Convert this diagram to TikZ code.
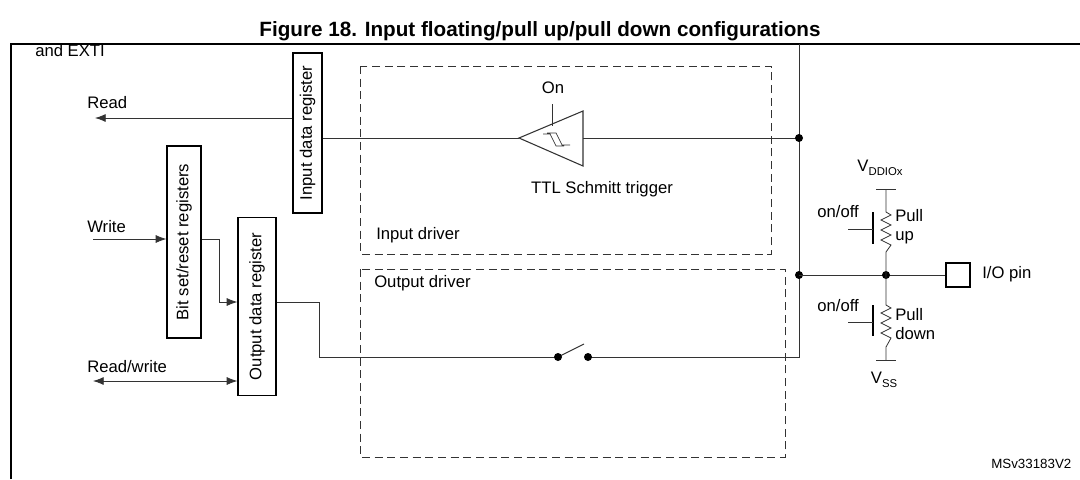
\documentclass[tikz,border=0pt]{standalone}
\usepackage{fontspec}
\setmainfont{Liberation Sans}
\usetikzlibrary{arrows.meta}
\begin{document}
\begin{tikzpicture}[x=0.75pt,y=-0.75pt,
  wire/.style={draw=black!80,line width=0.6pt},
  box/.style={draw,line width=0.9pt,inner sep=0pt},
  dashbox/.style={draw=black!80,line width=0.7pt,dash pattern=on 6pt off 3.5pt},
  lbl/.style={font=\fontsize{12.5}{14}\selectfont,inner sep=0pt},
  arr/.style={wire,-{Latex[length=8pt,width=6pt]}},
  dot/.style={circle,fill,inner sep=0pt,minimum size=6pt},
  rot/.style={font=\fontsize{12.5}{14}\selectfont,rotate=90,inner sep=0pt}]
\useasboundingbox (0,0) rectangle (1080,479);
% title and frame
\node[font=\bfseries\fontsize{15.5}{17}\selectfont,inner sep=0pt] (title) at (540,31) {Figure 18. Input floating/pull up/pull down configurations};
\draw[line width=1.3pt] (11,479) -- (11,44) -- (1080,44);
\begin{scope}
\clip (12,45) rectangle (1080,479);
\node[lbl,anchor=west] (exti) at (35,51) {and EXTI};
\end{scope}
% boxes
\node[box,minimum width=21.75pt,minimum height=120pt] (ireg) at (307.5,133) {};
\node[rot] at (ireg) {Input data register};
\node[box,minimum width=25.5pt,minimum height=144pt] (bsr) at (184,242) {};
\node[rot] at (bsr) {Bit set/reset registers};
\node[box,minimum width=28.5pt,minimum height=134pt] (oreg) at (257,306.5) {};
\node[rot] at (oreg) {Output data register};
% dashed boxes
\draw[dashbox] (360,66) rectangle (771,254);
\draw[dashbox] (360,269) rectangle (785,457);
\node[lbl,anchor=west] (idrv) at (376,235) {Input driver};
\node[lbl,anchor=west] (odrv) at (374,283) {Output driver};
% left side
\coordinate (readend) at (95,118);
\coordinate (writestart) at (93,239);
\coordinate (rwend) at (93,381);
\draw[arr] (ireg.west |- 0,118) -- (readend);
\node[lbl,anchor=west] (read) at (87,103) {Read};
\draw[arr] (writestart) -- (bsr.west |- 0,239);
\node[lbl,anchor=west] (write) at (87,227) {Write};
\draw[wire,{Latex[length=8pt,width=6pt]}-{Latex[length=8pt,width=6pt]}] (rwend) -- (oreg.west |- 0,381);
\node[lbl,anchor=west] (rw) at (87,367) {Read/write};
\draw[arr] (bsr.east |- 0,239) -| (219,302) -- (oreg.west |- 0,302);
% schmitt trigger
\coordinate (tip) at (519,138);
\coordinate (bt) at (583,111);
\coordinate (bb) at (583,166);
\draw[wire,line width=0.8pt] (tip) -- (bt) -- (bb) -- cycle;
\draw[wire] (552,104) -- (552,126);
\node[lbl] (on) at (553,88) {On};
\draw[wire,line width=0.5pt] (547,133) -- (556,133) -- (562,145) -- (570,145) (543,134) -- (550,134) -- (556,146) -- (564,146);
\node[lbl] (ttl) at (602,189) {TTL Schmitt trigger};
\coordinate (j1) at (799,138);
\coordinate (j2) at (799,275);
\coordinate (vtop) at (799,44);
\draw[wire] (ireg.east |- 0,138) -- (tip);
\draw[wire] (583,138) -- (j1);
\draw[wire] (vtop) -- (799,357) -- (588,357);
\node[dot] at (j1) {};
\node[dot] at (j2) {};
% output path and switch
\coordinate (s1) at (558,357);
\coordinate (s2) at (588,357);
\draw[wire] (oreg.east |- 0,302) -- (319,302) -- (319,357) -- (s1);
\draw[wire,line width=0.8pt] (s1) -- (584,344);
\node[dot] at (s1) {};
\node[dot] at (s2) {};
% pull network
\coordinate (pn) at (886,275);
\node[box,minimum width=18pt,minimum height=18pt,line width=0.8pt] (pin) at (958,275) {};
\node[lbl,anchor=west] (pinl) at (982,274) {I/O pin};
\draw[wire] (j2) -- (pin.west);
\node[dot] at (pn) {};
% pull up
\draw[wire] (876,189) -- (896,189);
\draw[wire] (886,189) -- (886,212) -- (891,215) -- (881,220) -- (891,225) -- (881,230) -- (891,235) -- (881,240) -- (891,245) -- (886,252) -- (pn);
\draw[line width=1pt] (873,212) -- (873,244);
\draw[wire] (848,229) -- (873,229);
\node[lbl] (vdd) at (880,168) {V\raisebox{-0.4ex}{\fontsize{8.5}{9}\selectfont DDIOx}};
\node[lbl,anchor=east] (onoff1) at (859,212) {on/off};
\node[lbl,anchor=west,align=left] (pu) at (895,227) {Pull\\up};
% pull down
\draw[wire] (pn) -- (886,305) -- (891,308) -- (881,313) -- (891,318) -- (881,323) -- (891,328) -- (881,333) -- (891,338) -- (886,347) -- (886,360);
\draw[wire] (876,360) -- (896,360);
\draw[line width=1pt] (873,305) -- (873,336);
\draw[wire] (848,322) -- (873,322);
\node[lbl] (vss) at (884,380) {V\raisebox{-0.4ex}{\fontsize{8.5}{9}\selectfont SS}};
\node[lbl,anchor=east] (onoff2) at (859,306) {on/off};
\node[lbl,anchor=west,align=left] (pd) at (895,324) {Pull\\down};
\node[font=\fontsize{10}{12}\selectfont,anchor=west,inner sep=0pt] (ms) at (991,464) {MSv33183V2};
\end{tikzpicture}
\end{document}
